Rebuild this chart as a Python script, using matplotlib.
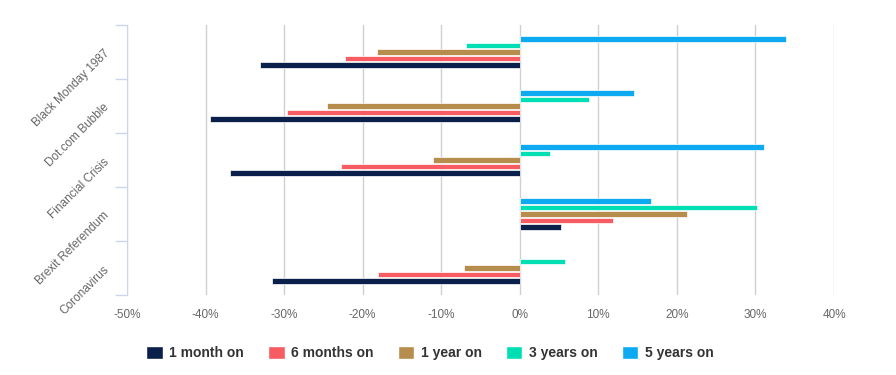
import matplotlib
matplotlib.use('Agg')
import matplotlib.pyplot as plt
from matplotlib.patches import Patch
import numpy as np

plt.rcParams['font.family'] = ['Liberation Sans', 'DejaVu Sans']

categories = ['Black Monday 1987', 'Dot.com Bubble', 'Financial Crisis', 'Brexit Referendum', 'Coronavirus']
series = ['1 month on', '6 months on', '1 year on', '3 years on', '5 years on']
colors = ['#0b1f4b', '#f75c63', '#b68d4c', '#00deb4', '#0daaf1']

one_month = [-33.1, -39.4, -36.9, 5.2, -31.6]
six_months = [-22.3, -29.6, -22.7, 11.9, -18.0]
one_year = [-18.2, -24.6, -11.0, 21.3, -7.1]
three_years = [-6.8, 8.8, 3.8, 30.2, 5.8]
five_years = [33.9, 14.6, 31.1, 16.7, np.nan]
values = [one_month, six_months, one_year, three_years, five_years]

fig = plt.figure(figsize=(8.96, 3.75), dpi=100)
ax = fig.add_axes([127/896, 80/375, 707/896, 270/375])

y = np.arange(len(categories))
offsets = [0.24, 0.12, 0.0, -0.12, -0.24]
for vals, off, c, name in zip(values, offsets, colors, series):
    ax.barh(y + off, vals, height=0.105, color=c, edgecolor='white', linewidth=0.5, label=name, zorder=3)

ax.set_xlim(-50, 40)
ax.set_ylim(len(categories) - 0.5, -0.5)
ax.set_xticks(np.arange(-50, 41, 10))
ax.set_xticklabels([f'{v}%' for v in range(-50, 41, 10)], color='#666666', fontsize=8.5)
ax.tick_params(axis='x', length=0, pad=10)
ax.grid(axis='x', color='#d0d0d0', linewidth=1, zorder=0)

ax.set_yticks(np.arange(-0.5, len(categories), 1.0))
ax.set_yticklabels([])
ax.tick_params(axis='y', which='major', length=9, color='#ccd6eb', width=1)
ax.set_yticks(y, minor=True)
ax.set_yticklabels(categories, minor=True, rotation=45, ha='right', va='center',
                   rotation_mode='anchor', color='#666666', fontsize=8.5)
ax.tick_params(axis='y', which='minor', length=0, pad=14)

for s in ['top', 'right', 'bottom']:
    ax.spines[s].set_visible(False)
ax.spines['left'].set_color('#ccd6eb')

handles = [Patch(facecolor=c, edgecolor='white', label=n) for c, n in zip(colors, series)]
leg = fig.legend(handles=handles, loc='center', bbox_to_anchor=(430/896, 1 - 353/375), ncol=5,
                 frameon=False, handlelength=1.2, handleheight=1.15, handletextpad=0.5,
                 columnspacing=1.7, prop={'weight': 'bold', 'size': 10})
for t in leg.get_texts():
    t.set_color('#333333')

fig.savefig('out.png', dpi=100)
